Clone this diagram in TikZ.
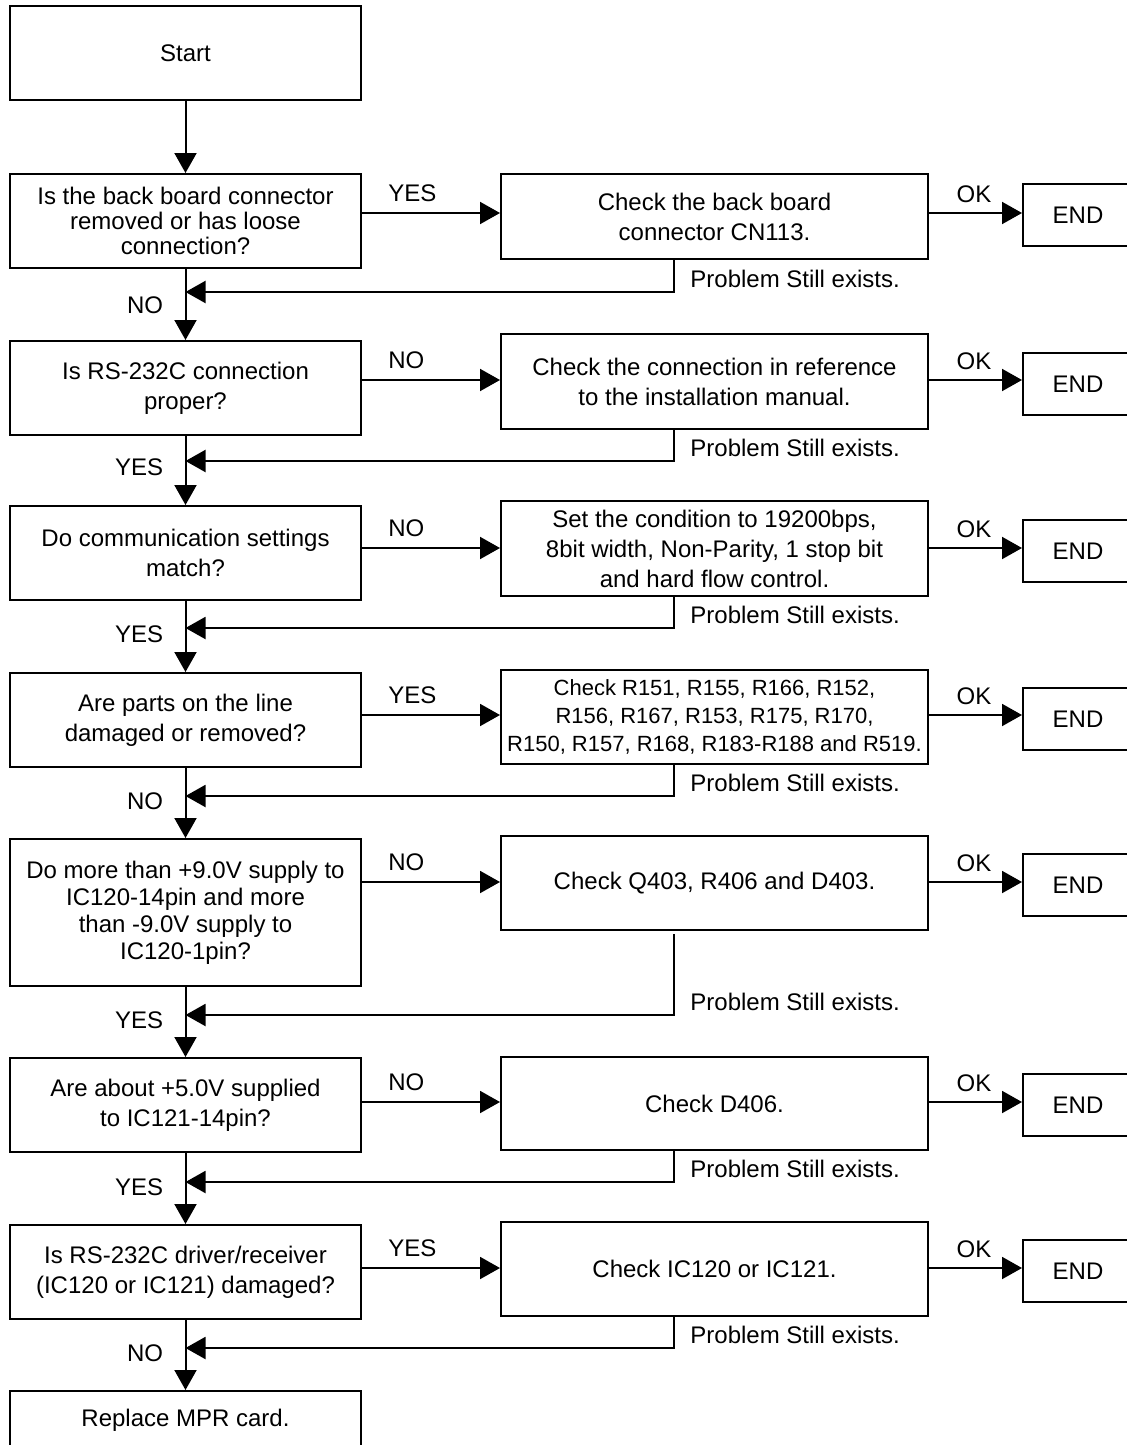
\documentclass[tikz,border=0pt]{standalone}
\usepackage{fontspec}
\setmainfont{Liberation Sans}
\usetikzlibrary{arrows.meta}
\begin{document}
\begin{tikzpicture}[x=0.5pt,y=-0.5pt,
  box/.style={draw, line width=1pt, inner sep=0pt, align=center, font=\fontsize{12}{15}\selectfont},
  lbox/.style={box, minimum width=175.5pt, minimum height=47pt},
  cbox/.style={box, minimum width=213.5pt, minimum height=47pt},
  ebox/.style={box, minimum width=55pt, minimum height=31pt},
  arr/.style={line width=1pt, -{Triangle[length=10pt,width=11pt]}},
  lab/.style={inner sep=0pt, font=\fontsize{12}{14}\selectfont},
]
\useasboundingbox (0,0) rectangle (1127,1445);
\clip (0,0) rectangle (1127,1445);

% helper coordinates
\coordinate (fbx) at (674,0);
\coordinate (r1) at (0,213);  \coordinate (f1) at (0,292);
\coordinate (r2) at (0,380);  \coordinate (f2) at (0,461);
\coordinate (r3) at (0,548);  \coordinate (f3) at (0,628);
\coordinate (r4) at (0,715);  \coordinate (f4) at (0,796);
\coordinate (r5) at (0,882);  \coordinate (f5) at (0,1015);
\coordinate (r6) at (0,1102); \coordinate (f6) at (0,1182);
\coordinate (r7) at (0,1268); \coordinate (f7) at (0,1348);

% left column
\node[lbox] (start) at (185.5,53) {Start};
\node[lbox, font=\fontsize{12}{12.5}\selectfont] (q1) at (185.5,221) {Is the back board connector\\removed or has loose\\connection?};
\node[lbox] (q2) at (185.5,388) {Is RS-232C connection\\proper?};
\node[lbox] (q3) at (185.5,553) {Do communication settings\\match?};
\node[lbox] (q4) at (185.5,720) {Are parts on the line\\damaged or removed?};
\node[lbox, minimum height=73.5pt, font=\fontsize{12}{13.5}\selectfont] (q5) at (185.5,912.5) {Do more than +9.0V supply to\\IC120-14pin and more\\than -9.0V supply to\\IC120-1pin?};
\node[lbox] (q6) at (185.5,1105) {Are about +5.0V supplied\\to IC121-14pin?};
\node[lbox] (q7) at (185.5,1272) {Is RS-232C driver/receiver\\(IC120 or IC121) damaged?};
\node[lbox, minimum height=29pt] (rep) at (185.5,1420) {Replace MPR card.};

% check column
\node[cbox, minimum height=42.5pt] (c1) at (714.5,216.5) {Check the back board\\connector CN113.};
\node[cbox, minimum height=47.5pt] (c2) at (714.5,381.5) {Check the connection in reference\\to the installation manual.};
\node[cbox, minimum height=47.5pt] (c3) at (714.5,548.5) {Set the condition to 19200bps,\\8bit width, Non-Parity, 1 stop bit\\and hard flow control.};
\node[cbox, font=\fontsize{11}{14}\selectfont] (c4) at (714.5,717) {Check R151, R155, R166, R152,\\R156, R167, R153, R175, R170,\\R150, R157, R168, R183-R188 and R519.};
\node[cbox] (c5) at (714.5,883) {Check Q403, R406 and D403.};
\node[cbox, minimum height=46.5pt] (c6) at (714.5,1103.5) {Check D406.};
\node[cbox] (c7) at (714.5,1269) {Check IC120 or IC121.};

% END column
\node[ebox] (e1) at (1078,215) {END};
\node[ebox] (e2) at (1078,384) {END};
\node[ebox] (e3) at (1078,551) {END};
\node[ebox] (e4) at (1078,719) {END};
\node[ebox] (e5) at (1078,885) {END};
\node[ebox] (e6) at (1078,1105) {END};
\node[ebox] (e7) at (1078,1271) {END};

% main vertical flow
\draw[arr] (start.south) -- (q1.north);
\draw[arr] (q1.south) -- (q2.north);
\draw[arr] (q2.south) -- (q3.north);
\draw[arr] (q3.south) -- (q4.north);
\draw[arr] (q4.south) -- (q5.north);
\draw[arr] (q5.south) -- (q6.north);
\draw[arr] (q6.south) -- (q7.north);
\draw[arr] (q7.south) -- (rep.north);

% question -> check, check -> END
\foreach \i/\t in {1/YES,2/NO,3/NO,4/YES,5/NO,6/NO,7/YES}{
  \draw[arr] (q\i.east |- r\i) -- (c\i.west |- r\i);
  \node[lab, anchor=base west] (yn\i) at ([xshift=13pt,yshift=6pt]q\i.east |- r\i) {\t};
  \draw[arr] (c\i.east |- r\i) -- (e\i.west |- r\i);
  \node[lab, anchor=base] (ok\i) at ([xshift=22.5pt,yshift=5.5pt]c\i.east |- r\i) {OK};
}

% feedback loops
\foreach \i in {1,2,3,4,6,7}{
  \draw[arr] (c\i.south -| fbx) -- (fbx |- f\i) -- (q\i.south |- f\i);
  \node[lab, anchor=base west] (pr\i) at ([xshift=8pt,yshift=2.5pt]fbx |- f\i) {Problem Still exists.};
}
\draw[arr] ([yshift=-1.5pt]c5.south -| fbx) -- (fbx |- f5) -- (q5.south |- f5);
\node[lab, anchor=base west] (pr5) at ([xshift=8pt,yshift=2.5pt]fbx |- f5) {Problem Still exists.};

% labels on the down connectors
\node[lab, anchor=east] (d1) at ([xshift=-11pt,yshift=-6.5pt]q1.south |- f1) {NO};
\node[lab, anchor=east] (d2) at ([xshift=-11pt,yshift=-3pt]q2.south |- f2) {YES};
\node[lab, anchor=east] (d3) at ([xshift=-11pt,yshift=-3pt]q3.south |- f3) {YES};
\node[lab, anchor=east] (d4) at ([xshift=-11pt,yshift=-2.5pt]q4.south |- f4) {NO};
\node[lab, anchor=east] (d5) at ([xshift=-11pt,yshift=-2.5pt]q5.south |- f5) {YES};
\node[lab, anchor=east] (d6) at ([xshift=-11pt,yshift=-2.5pt]q6.south |- f6) {YES};
\node[lab, anchor=east] (d7) at ([xshift=-11pt,yshift=-2.5pt]q7.south |- f7) {NO};
\end{tikzpicture}
\end{document}
